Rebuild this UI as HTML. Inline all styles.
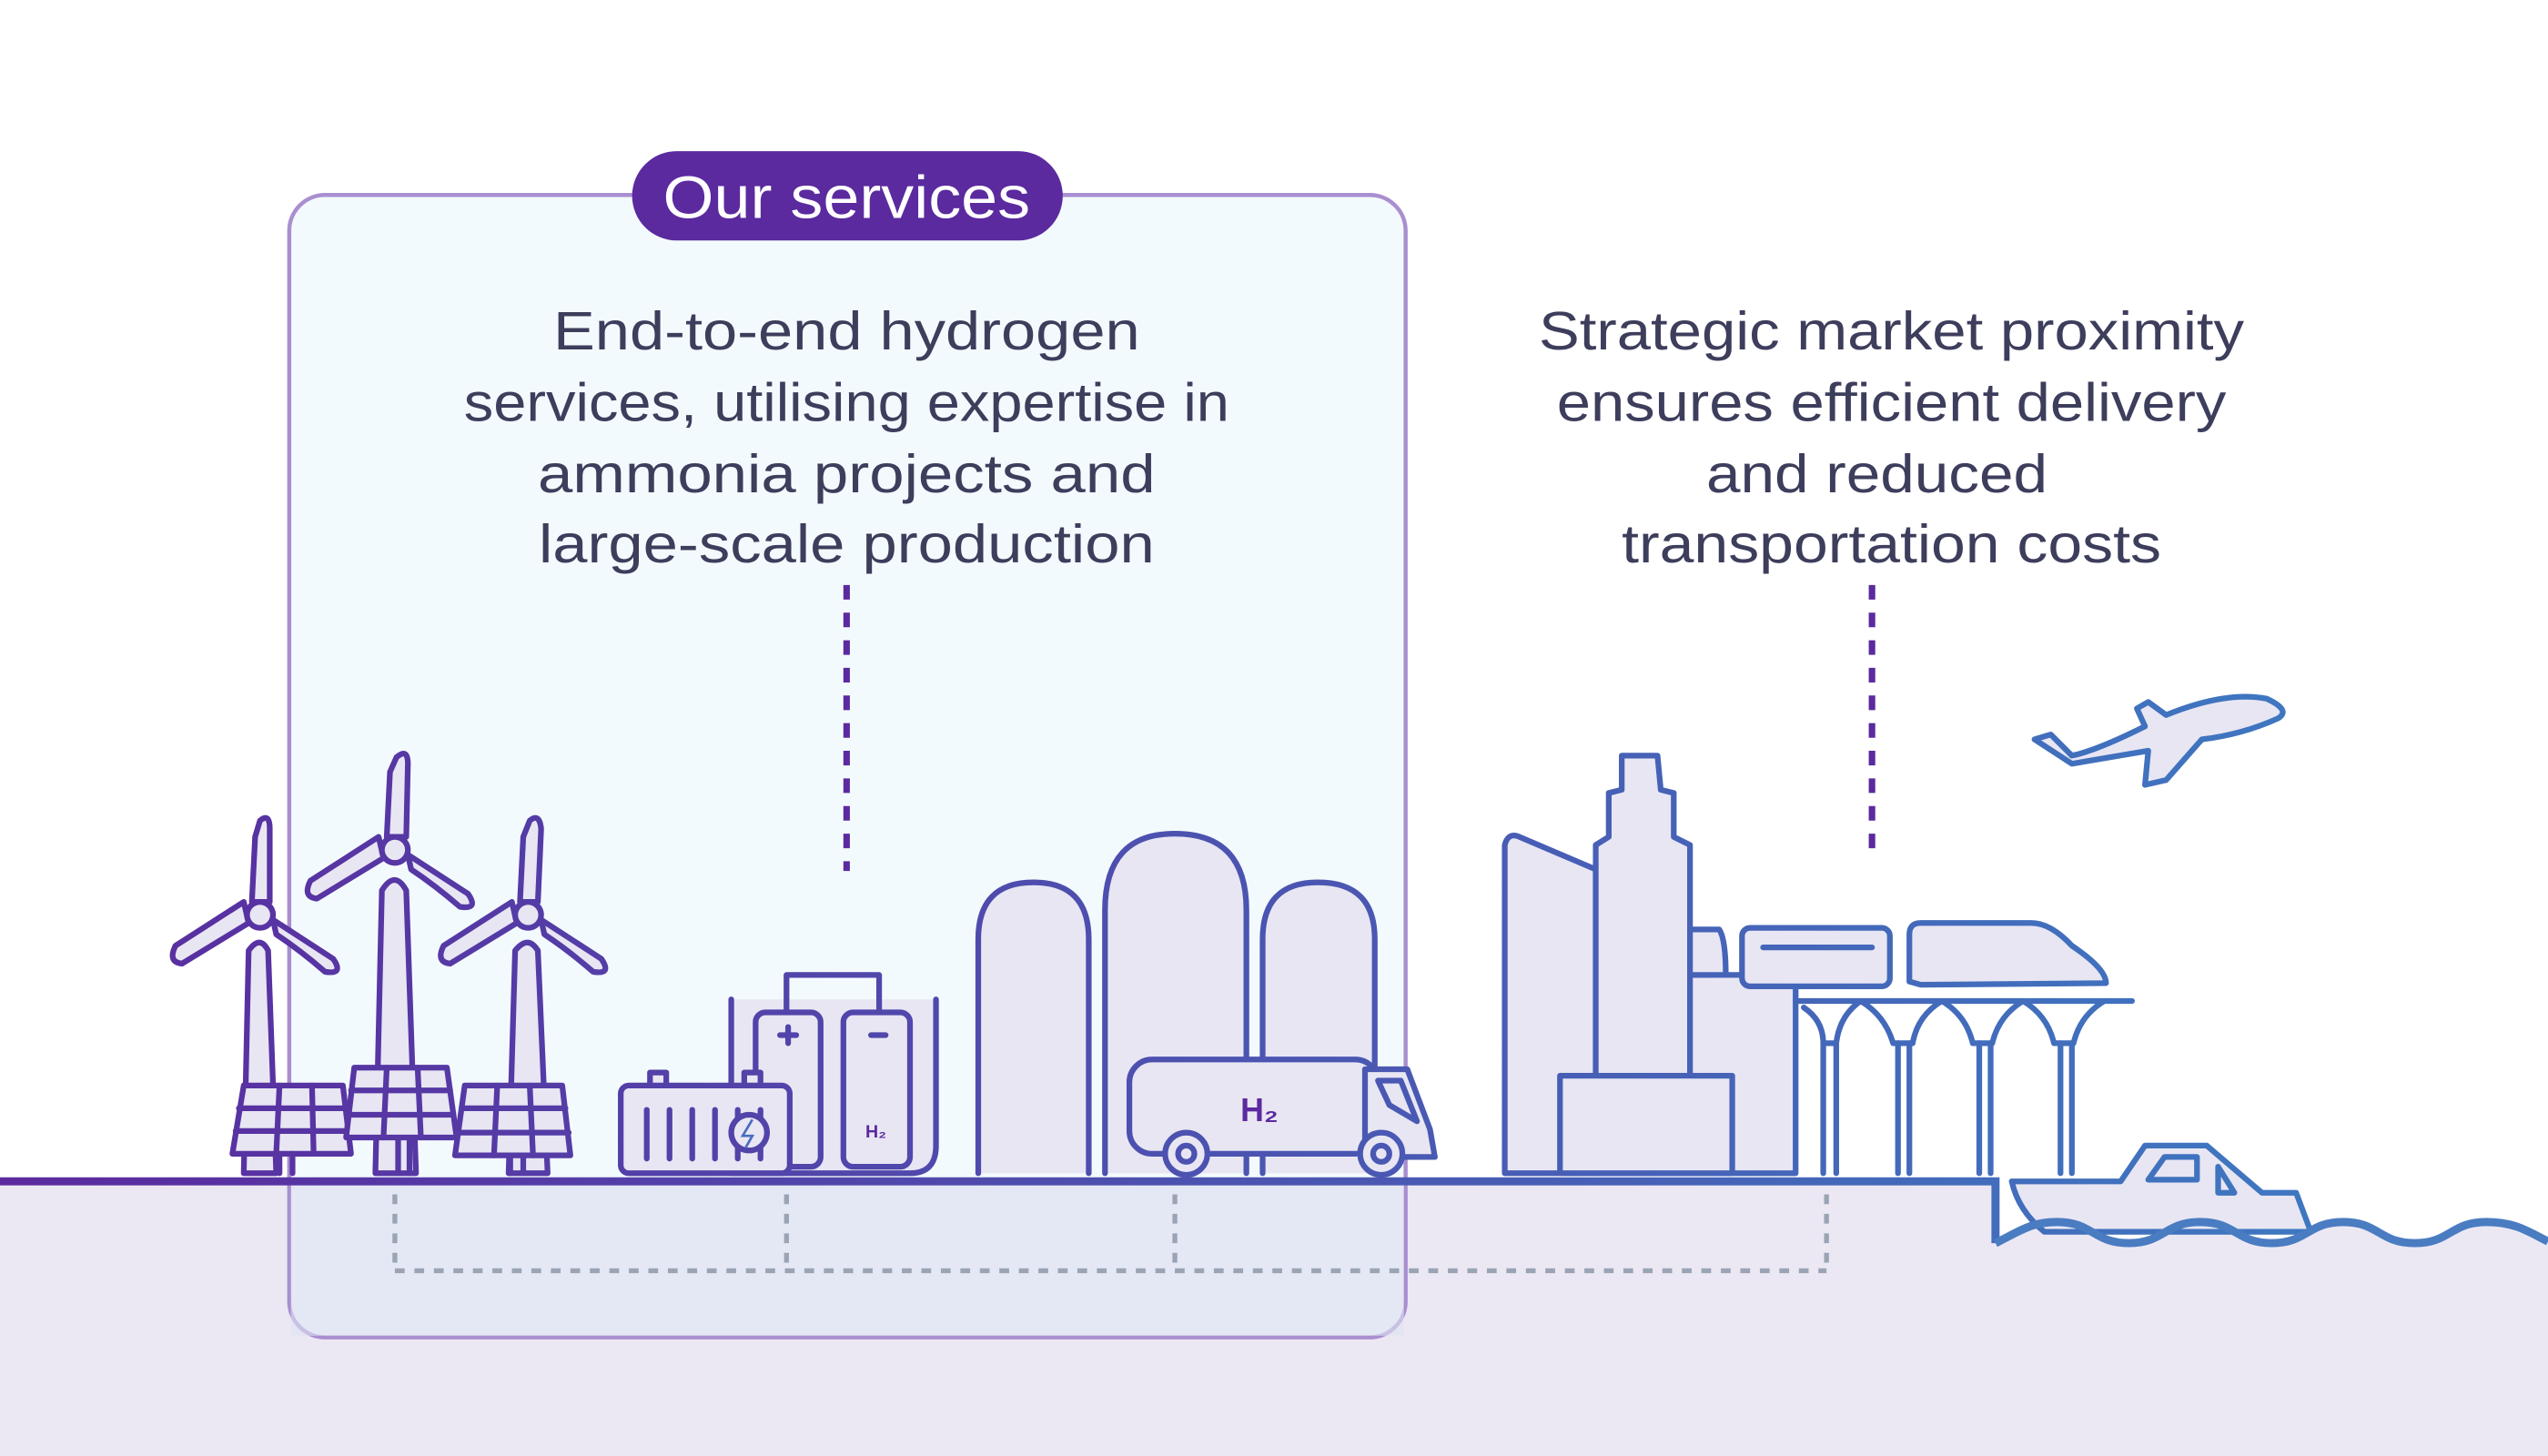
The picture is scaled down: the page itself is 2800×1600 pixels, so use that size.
<!DOCTYPE html>
<html><head><meta charset="utf-8"><style>
html,body{margin:0;padding:0;background:#fff;}
svg{display:block;}
text{font-family:"Liberation Sans",sans-serif;}
</style></head><body>
<svg width="2800" height="1600" viewBox="0 0 1568 896" xmlns="http://www.w3.org/2000/svg">
<defs>
<linearGradient id="gl" gradientUnits="userSpaceOnUse" x1="0" y1="0" x2="1568" y2="0"><stop offset="0" stop-color="#5b2a9e"/><stop offset="1" stop-color="#3b7fc4"/></linearGradient>
</defs>
<rect width="1568" height="896" fill="#fff"/>
<!-- ground -->
<rect x="0" y="727" width="1228" height="169" fill="#ece8f3"/>
<path d="M1228 765 C1244 757 1250 752 1266 752 C1288 752 1288 765 1310 765 C1332 765 1332 752 1354 752 C1376 752 1376 765 1398 765 C1420 765 1420 752 1442 752 C1464 752 1464 765 1486 765 C1508 765 1508 752 1530 752 C1548 752 1556 758 1568 764 L1568 896 L1228 896Z" fill="#ece8f3"/>
<!-- services box -->
<rect x="178" y="120" width="687" height="703" rx="22" fill="#e9f6fb" fill-opacity="0.55" stroke="#a98fd0" stroke-width="2.5"/>
<rect x="179" y="729" width="685" height="93" fill="#dfe3f2" fill-opacity="0.6"/>
<rect x="389" y="93" width="265" height="55" rx="27.5" fill="#5b2a9e"/>
<text x="521" y="134" font-size="37" fill="#fff" text-anchor="middle" textLength="226" lengthAdjust="spacingAndGlyphs">Our services</text>
<g font-size="33" fill="#3d3d5c" text-anchor="middle">
<text x="521" y="215" textLength="361" lengthAdjust="spacingAndGlyphs">End-to-end hydrogen</text>
<text x="521" y="259" textLength="471" lengthAdjust="spacingAndGlyphs">services, utilising expertise in</text>
<text x="521" y="303" textLength="380" lengthAdjust="spacingAndGlyphs">ammonia  projects and</text>
<text x="521" y="346" textLength="379" lengthAdjust="spacingAndGlyphs">large-scale production</text>
<text x="1164" y="215" textLength="434" lengthAdjust="spacingAndGlyphs">Strategic market proximity</text>
<text x="1164" y="259" textLength="412" lengthAdjust="spacingAndGlyphs">ensures  efficient delivery</text>
<text x="1155" y="303" textLength="210" lengthAdjust="spacingAndGlyphs">and reduced</text>
<text x="1164" y="346" textLength="332" lengthAdjust="spacingAndGlyphs">transportation costs</text>
</g>
<g stroke="#5b2a9e" stroke-width="4" stroke-dasharray="9 8">
<line x1="521" y1="360" x2="521" y2="536"/>
<line x1="1152" y1="360" x2="1152" y2="528"/>
</g>
<g stroke="#9aa4b4" stroke-width="3" stroke-dasharray="6 6" fill="none">
<line x1="243" y1="735" x2="243" y2="782"/><line x1="484" y1="735" x2="484" y2="782"/><line x1="723" y1="735" x2="723" y2="782"/><line x1="1124" y1="735" x2="1124" y2="782"/>
<line x1="243" y1="782" x2="1124" y2="782"/>
</g>
<g stroke="url(#gl)" stroke-width="3.5" fill="#e8e6f3" stroke-linejoin="round" stroke-linecap="round">
<!-- turbines -->
<path d="M150 722 L153 585 Q160 575 165 585 L170 722Z"/>
<path d="M155 555 L157 515 L160 505 Q166 500 166 510 L166 555Z"/><path d="M153 568 L112 593 Q103 592 108 582 L150 555Z"/><path d="M168 566 L205 590 Q212 600 200 598 Q185 585 170 575Z"/>
<circle cx="160" cy="563" r="8"/>
<path d="M231 722 L235 548 Q243 535 250 548 L256 722Z"/>
<path d="M238 515 L240 475 L244 466 Q251 460 251 470 L250 515Z"/><path d="M236 528 L195 553 Q186 552 191 542 L233 515Z"/><path d="M251 526 L288 550 Q295 560 283 558 Q268 545 253 535Z"/>
<circle cx="243" cy="523" r="8"/>
<path d="M313 722 L317 585 Q325 575 331 585 L337 722Z"/>
<path d="M320 555 L322 515 L326 505 Q332 500 333 510 L331 555Z"/><path d="M318 568 L277 593 Q268 592 273 582 L315 555Z"/><path d="M333 566 L370 590 Q377 600 365 598 Q350 585 335 575Z"/>
<circle cx="325" cy="563" r="8"/>
<!-- solar panels -->
<path d="M150 668 L211 668 L216 710 L143 710Z"/><path d="M147 682 L213 682 M145 696 L215 696 M172 668 L170 710 M192 668 L193 710" fill="none"/>
<path d="M218 657 L275 657 L281 700 L213 700Z"/><path d="M216 671 L277 671 M214 686 L279 686 M238 657 L236 700 M257 657 L259 700" fill="none"/>
<path d="M286 668 L346 668 L351 711 L280 711Z"/><path d="M284 682 L348 682 M282 697 L350 697 M306 668 L304 711 M326 668 L328 711" fill="none"/>
<path d="M172 710 L172 722 M180 710 L180 722 M245 700 L245 722 M252 700 L252 722 M314 711 L314 722 M322 711 L322 722" fill="none"/>
<!-- electrolyser -->
<path d="M450 615 L450 722 L560 722 Q576 722 576 705 L576 615"/>
<rect x="465" y="623" width="40" height="95" rx="6"/><rect x="519" y="623" width="41" height="95" rx="6"/>
<path d="M484 623 L484 600 L541 600 L541 623" fill="none"/>
<path d="M480 637 L490 637 M485 632 L485 642 M536 637 L545 637" fill="none"/>
<!-- battery -->
<rect x="382" y="668" width="104" height="54" rx="5"/>
<rect x="400" y="660" width="10" height="8"/><rect x="458" y="660" width="10" height="8"/>
<path d="M398 683 L398 713 M412 683 L412 713 M426 683 L426 713 M440 683 L440 713 M454 683 L454 713 M468 683 L468 713" fill="none"/>
<circle cx="461" cy="697" r="11"/>
<!-- tanks -->
<path d="M602 722 L602 578 Q602 543 636 543 Q670 543 670 578 L670 722"/>
<path d="M680 722 L680 560 Q680 513 723 513 Q767 513 767 560 L767 722"/>
<path d="M777 722 L777 578 Q777 543 811 543 Q846 543 846 578 L846 722"/>
<!-- truck -->
<rect x="695" y="652" width="153" height="58" rx="14"/>
<path d="M840 712 L840 658 L866 658 L880 695 L883 712Z"/><path d="M848 665 L862 665 L872 690 L855 680Z"/>
<circle cx="730" cy="710" r="13"/><circle cx="730" cy="710" r="5"/>
<circle cx="850" cy="710" r="13"/><circle cx="850" cy="710" r="5"/>
<!-- buildings -->
<path d="M926 722 L926 520 Q928 512 935 515 L982 535 L982 722Z"/>
<path d="M982 722 L982 520 L990 515 L990 488 L998 486 L998 465 L1020 465 L1022 486 L1030 488 L1030 515 L1040 520 L1040 722Z"/>
<path d="M1040 600 L1040 572 L1058 572 Q1062 578 1062 600"/>
<rect x="1040" y="600" width="65" height="122"/>
<rect x="960" y="662" width="106" height="60"/>
<rect x="1072" y="571" width="91" height="36" rx="5"/>
<path d="M1085 583 L1152 583 M1187 582 L1225 582 M1233 582 L1255 582" fill="none"/>
<path d="M1175 604 L1175 575 Q1175 568 1182 568 L1250 568 Q1262 568 1275 582 Q1296 596 1296 605 L1182 606Z"/>
<path d="M1105 616 L1312 616" fill="none"/>
<path d="M1110 620 Q1122 628 1122 642 L1130 642 Q1132 625 1145 616 Q1160 625 1165 642 L1177 642 Q1180 625 1195 616 Q1210 625 1214 642 L1226 642 Q1230 625 1245 616 Q1260 625 1264 642 L1276 642 Q1280 625 1295 616" fill="none"/>
<path d="M1122 642 L1122 722 M1130 642 L1130 722 M1168 642 L1168 722 M1175 642 L1175 722 M1218 642 L1218 722 M1225 642 L1225 722 M1268 642 L1268 722 M1275 642 L1275 722" fill="none"/>
<!-- plane -->
<path d="M1252 455 L1262 452 L1275 465 Q1290 462 1320 447 L1315 436 L1322 432 L1333 440 Q1370 425 1395 430 Q1410 437 1402 442 Q1380 452 1355 455 L1333 480 L1320 483 L1322 462 L1275 470Z"/>
<!-- boat -->
<path d="M1238 727 L1305 727 L1320 705 L1358 705 L1392 734 L1413 734 L1422 758 L1258 758 Q1242 745 1238 727Z"/>
<path d="M1322 726 L1332 712 L1352 712 L1352 726Z M1365 718 L1375 734 L1365 734Z"/>
</g>
<!-- ground line and waves -->
<path d="M0 727 L1228 727 L1228 765" fill="none" stroke="url(#gl)" stroke-width="5"/>
<path d="M1228 765 C1244 757 1250 752 1266 752 C1288 752 1288 765 1310 765 C1332 765 1332 752 1354 752 C1376 752 1376 765 1398 765 C1420 765 1420 752 1442 752 C1464 752 1464 765 1486 765 C1508 765 1508 752 1530 752 C1548 752 1556 758 1568 764" fill="none" stroke="#4a7cc2" stroke-width="5"/>
<text x="775" y="690" font-size="20" font-weight="bold" fill="#5b2a9e" text-anchor="middle">H₂</text>
<text x="539" y="700" font-size="11" font-weight="bold" fill="#5b2a9e" text-anchor="middle">H₂</text>
<path d="M463 689 L457 699 L463 699 L459 706" fill="none" stroke="#4a6cbf" stroke-width="1.5"/>
</svg>
</body></html>
